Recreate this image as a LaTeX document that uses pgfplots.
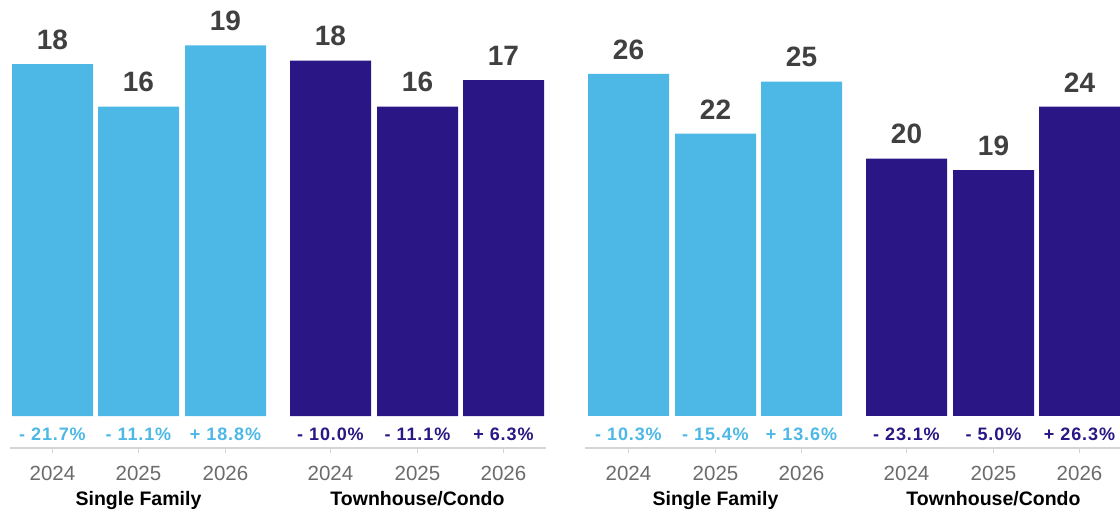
\documentclass[border=0pt]{standalone}
\usepackage{pgfplots}
\usepackage{pgfplotstable}
\pgfplotsset{compat=1.18}
\usepackage{fontspec}
\setmainfont{Liberation Sans}
\newfontfamily\pctfont[LetterSpace=5]{Liberation Sans}
\definecolor{lblue}{HTML}{4DB8E6}
\definecolor{navy}{HTML}{2A1785}
\definecolor{valgray}{HTML}{404040}
\definecolor{yeargray}{HTML}{6B6B6B}
\definecolor{linegray}{HTML}{D4D4D4}

% left panel
\pgfplotstableread[col sep=comma]{
x,y,lab,py,pct
52.5,18.04,18,-1.267,{- 21.7\%}
138.5,15.86,16,-1.267,{- 11.1\%}
225.5,19.01,19,-1.267,{+ 18.8\%}
}\Lsf
\pgfplotstableread[col sep=comma]{
x,y,lab,py,pct
330.5,18.22,18,-1.267,{- 10.0\%}
417.5,15.86,16,-1.267,{- 11.1\%}
503.5,17.23,17,-1.267,{+ 6.3\%}
}\Lth
% right panel
\pgfplotstableread[col sep=comma]{
x,y,lab,py,pct
628.5,26.31,26,-1.9,{- 10.3\%}
715.5,21.72,22,-1.9,{- 15.4\%}
801.5,25.72,25,-1.9,{+ 13.6\%}
}\Rsf
\pgfplotstableread[col sep=comma]{
x,y,lab,py,pct
906.5,19.79,20,-1.9,{- 23.1\%}
993.5,18.92,19,-1.9,{- 5.0\%}
1079.5,23.79,24,-1.9,{+ 26.3\%}
}\Rth

\pgfplotsset{
  panel/.style={
    scale only axis, clip=false,
    height=448.3pt,
    axis x line*=bottom, axis y line=none,
    axis line style={linegray, line width=1.6pt},
    ytick=\empty,
    tick align=outside, major tick length=5pt,
    xtick style={linegray, line width=1.2pt},
    xticklabel style={anchor=base, yshift=-27.7pt, font=\fontsize{20.5}{23}\selectfont, text=yeargray},
  },
  bars/.style={ybar, bar width=81pt, bar shift=0pt, draw=none, fill=#1,
    nodes near coords, point meta=explicit symbolic,
    nodes near coords style={anchor=south, inner sep=0pt, yshift=14.3pt,
      font=\fontsize{28}{30}\selectfont\bfseries, text=valgray}},
  pcts/.style={draw=none, mark=none, nodes near coords, point meta=explicit symbolic,
    nodes near coords style={anchor=base, inner sep=0pt,
      font=\pctfont\fontsize{18}{20}\selectfont\bfseries, text=#1}},
}

\begin{document}
\begin{tikzpicture}
\path[use as bounding box] (0,0) rectangle (1120pt,514pt);

\begin{axis}[panel, at={(10pt,65.7pt)}, anchor=south west,
  width=536pt, xmin=10, xmax=546, ymin=-1.656, ymax=21.333,
  xtick={52.5,138.5,225.5,330.5,417.5,503.5},
  xticklabels={2024,2025,2026,2024,2025,2026}]
\addplot[bars=lblue] table[x=x,y=y,meta=lab] {\Lsf};
\addplot[bars=navy] table[x=x,y=y,meta=lab] {\Lth};
\addplot[pcts=lblue] table[x=x,y=py,meta=pct] {\Lsf};
\addplot[pcts=navy] table[x=x,y=py,meta=pct] {\Lth};
\node[anchor=base, font=\fontsize{19.5}{22}\selectfont\bfseries] at (axis cs:138.5,0) [yshift=-89.7pt] {Single Family};
\node[anchor=base, font=\fontsize{19.5}{22}\selectfont\bfseries] at (axis cs:417.5,0) [yshift=-89.7pt] {Townhouse/Condo};
\end{axis}

\begin{axis}[panel, at={(585pt,65.7pt)}, anchor=south west,
  width=535pt, xmin=585, xmax=1120, ymin=-2.485, ymax=32.0,
  xtick={628.5,715.5,801.5,906.5,993.5,1079.5},
  xticklabels={2024,2025,2026,2024,2025,2026}]
\addplot[bars=lblue] table[x=x,y=y,meta=lab] {\Rsf};
\addplot[bars=navy] table[x=x,y=y,meta=lab] {\Rth};
\addplot[pcts=lblue] table[x=x,y=py,meta=pct] {\Rsf};
\addplot[pcts=navy] table[x=x,y=py,meta=pct] {\Rth};
\node[anchor=base, font=\fontsize{19.5}{22}\selectfont\bfseries] at (axis cs:715.5,0) [yshift=-89.7pt] {Single Family};
\node[anchor=base, font=\fontsize{19.5}{22}\selectfont\bfseries] at (axis cs:993.5,0) [yshift=-89.7pt] {Townhouse/Condo};
\end{axis}
\end{tikzpicture}
\end{document}
